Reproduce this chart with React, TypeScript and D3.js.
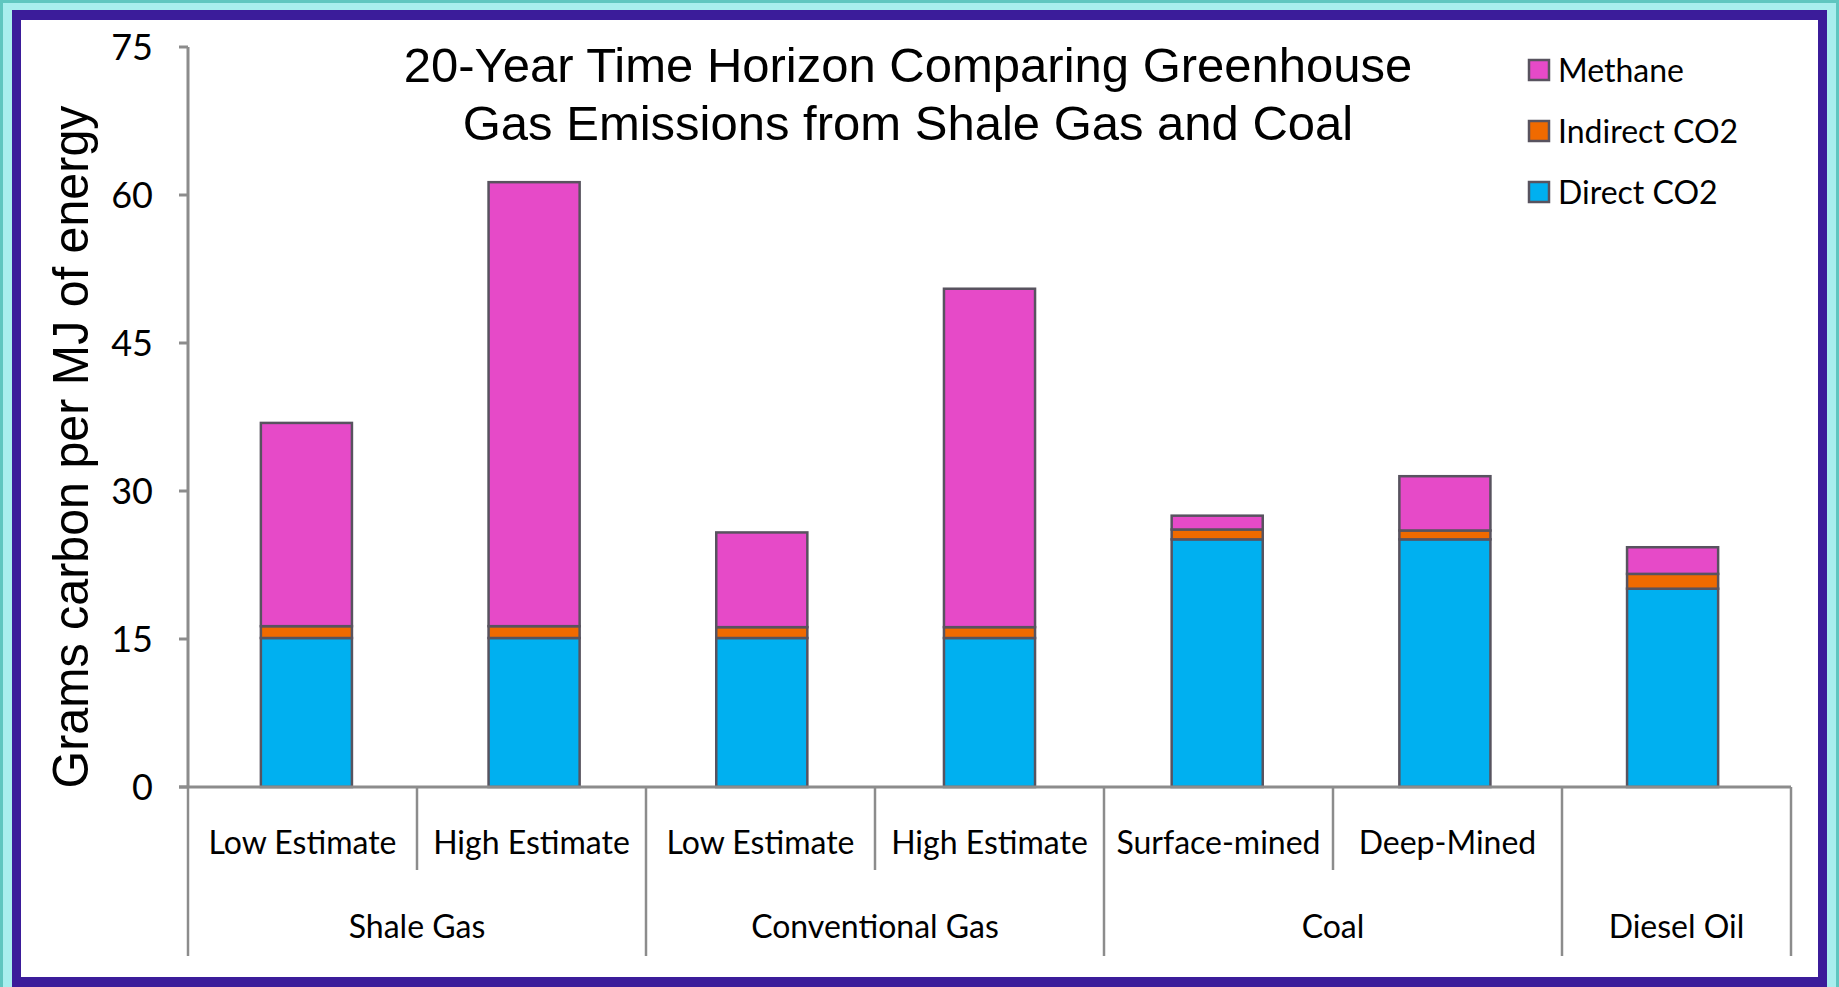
import React from 'react'
import * as d3 from 'd3'

const categories = ['Low Estimate', 'High Estimate', 'Low Estimate', 'High Estimate', 'Surface-mined', 'Deep-Mined', '']
const groups = [
  { name: 'Shale Gas', from: 0, to: 1 },
  { name: 'Conventional Gas', from: 2, to: 3 },
  { name: 'Coal', from: 4, to: 5 },
  { name: 'Diesel Oil', from: 6, to: 6 },
]
const directCO2 = [15.1, 15.1, 15.1, 15.1, 25.1, 25.1, 20.1]
const indirectCO2 = [1.2, 1.2, 1.1, 1.1, 1.0, 0.9, 1.5]
const methane = [20.6, 45.0, 9.6, 34.3, 1.4, 5.5, 2.7]
const yTicks = [0, 15, 30, 45, 60, 75]

const seriesKeys = ['direct', 'indirect', 'methane']
const seriesColors: Record<string, string> = {
  direct: '#00b0f0',
  indirect: '#f06a00',
  methane: '#e64ac8',
}
const legendItems = [
  { key: 'methane', label: 'Methane' },
  { key: 'indirect', label: 'Indirect CO2' },
  { key: 'direct', label: 'Direct CO2' },
]

const W = 1839
const H = 987
const left = 188
const right = 1791
const top = 47
const bottom = 787

const labelFont = 'Lato, "Open Sans", sans-serif'
const titleFont = '"Liberation Sans", Arial, sans-serif'

export default function App() {
  const rows = categories.map((c, i) => ({
    i,
    direct: directCO2[i],
    indirect: indirectCO2[i],
    methane: methane[i],
  }))
  const stacked = d3.stack<any>().keys(seriesKeys)(rows)

  const x = d3
    .scaleBand<number>()
    .domain(d3.range(categories.length))
    .range([left, right])
    .paddingInner(0.6)
    .paddingOuter(0.32)
  const step = (right - left) / categories.length
  const edge = (i: number) => left + i * step

  const y = d3.scaleLinear().domain([0, 75]).range([bottom, top])

  const groupStarts = new Set(groups.map((g) => g.from))

  return (
    <div style={{ position: 'absolute', left: 0, top: 0 }}>
      <svg width={W} height={H} style={{ display: 'block' }}>
        {/* frame */}
        <rect x={0} y={0} width={W} height={H} fill="#a9eeee" />
        <rect x={1.5} y={1.5} width={W - 3} height={H + 10} fill="none" stroke="#5fc6c0" strokeWidth={3} />
        <rect x={12} y={10} width={1815} height={H} fill="#3b1c9a" />
        <rect x={21} y={20} width={1797} height={957} fill="#ffffff" />

        {/* title */}
        <text x={908} y={82} textAnchor="middle" fontFamily={titleFont} fontSize={49} fill="#000">
          20-Year Time Horizon Comparing Greenhouse
        </text>
        <text x={908} y={140} textAnchor="middle" fontFamily={titleFont} fontSize={49} fill="#000">
          Gas Emissions from Shale Gas and Coal
        </text>

        {/* y axis title */}
        <text
          transform={`translate(88, 447) rotate(-90)`}
          textAnchor="middle"
          fontFamily={titleFont}
          fontSize={50}
          textLength={683}
          lengthAdjust="spacingAndGlyphs"
          fill="#000"
        >
          Grams carbon per MJ of energy
        </text>

        {/* bars */}
        {stacked.map((s) => (
          <g key={s.key}>
            {s.map((d, i) => (
              <rect
                key={i}
                x={x(i)}
                y={y(d[1])}
                width={x.bandwidth()}
                height={y(d[0]) - y(d[1])}
                fill={seriesColors[s.key]}
                stroke="#58535f"
                strokeWidth={2.5}
              />
            ))}
          </g>
        ))}

        {/* y axis */}
        <line x1={left} x2={left} y1={top} y2={bottom} stroke="#8c8c8c" strokeWidth={3} />
        {yTicks.map((t) => (
          <g key={t}>
            <line x1={left - 9} x2={left} y1={y(t)} y2={y(t)} stroke="#8c8c8c" strokeWidth={3} />
            <text
              x={153}
              y={y(t)}
              dy="0.36em"
              textAnchor="end"
              fontFamily={labelFont}
              fontSize={36}
              fill="#000"
            >
              {t}
            </text>
          </g>
        ))}

        {/* x axis */}
        <line x1={left - 9} x2={right} y1={bottom} y2={bottom} stroke="#8c8c8c" strokeWidth={3} />
        {d3.range(categories.length + 1).map((i) => {
          const long = i === categories.length || groupStarts.has(i)
          return (
            <line
              key={i}
              x1={edge(i)}
              x2={edge(i)}
              y1={bottom}
              y2={long ? 956 : 870}
              stroke="#8c8c8c"
              strokeWidth={2.5}
            />
          )
        })}
        {categories.map((c, i) => (
          <text
            key={i}
            x={edge(i) + step / 2}
            y={854}
            textAnchor="middle"
            fontFamily={labelFont}
            fontSize={32}
            fill="#000"
          >
            {c}
          </text>
        ))}
        {groups.map((g) => (
          <text
            key={g.name}
            x={(edge(g.from) + edge(g.to + 1)) / 2}
            y={938}
            textAnchor="middle"
            fontFamily={labelFont}
            fontSize={32}
            fill="#000"
          >
            {g.name}
          </text>
        ))}

        {/* legend */}
        {legendItems.map((item, k) => {
          const cy = 70 + k * 61
          return (
            <g key={item.key}>
              <rect
                x={1529}
                y={cy - 10}
                width={20}
                height={20}
                fill={seriesColors[item.key]}
                stroke="#58535f"
                strokeWidth={2.5}
              />
              <text x={1558} y={cy} dy="0.36em" fontFamily={labelFont} fontSize={32} fill="#000">
                {item.label}
              </text>
            </g>
          )
        })}
      </svg>
    </div>
  )
}
